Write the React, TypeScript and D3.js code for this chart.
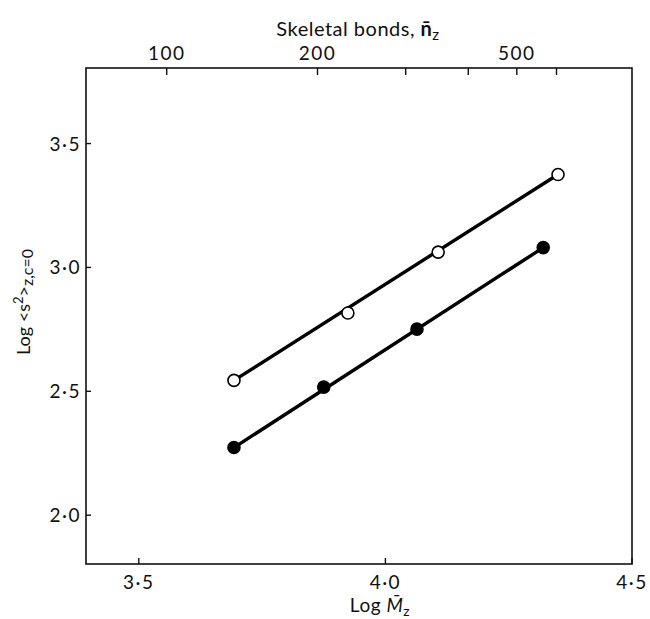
import React from "react";
import * as d3 from "d3";

// ---- data ----
const openLogM = [3.693, 3.924, 4.107, 4.35];
const openLogS = [2.544, 2.816, 3.062, 3.375];
const filledLogM = [3.693, 3.875, 4.064, 4.32];
const filledLogS = [2.273, 2.517, 2.751, 3.08];

const xTicks = [3.5, 4.0, 4.5];
const xTickLabels = ["3·5", "4·0", "4·5"];
const yTicks = [2.0, 2.5, 3.0, 3.5];
const yTickLabels = ["2·0", "2·5", "3·0", "3·5"];
const topTicks = [100, 200, 300, 400, 500, 600];
const topTickLabels = ["100", "200", "", "", "500", ""];

const W = 650;
const H = 619;
const M = { left: 86, right: 18, top: 68, bottom: 55 };
const FONT = "Lato, 'Open Sans', sans-serif";

export default function App() {
  const x = d3.scaleLinear().domain([3.393, 4.5]).range([M.left, W - M.right]);
  const y = d3.scaleLinear().domain([1.803, 3.805]).range([H - M.bottom, M.top]);
  const xTop = d3.scaleLog().domain([69, 849]).range([M.left, W - M.right]);

  const series = [
    { xs: openLogM, ys: openLogS, filled: false },
    { xs: filledLogM, ys: filledLogS, filled: true },
  ];
  const line = d3
    .line<[number, number]>()
    .x((d) => x(d[0]))
    .y((d) => y(d[1]));

  const x0 = M.left;
  const x1 = W - M.right;
  const y0 = M.top;
  const y1 = H - M.bottom;
  const tickFont = 19;

  return (
    <svg
      width={W}
      height={H}
      style={{ position: "absolute", left: 0, top: 0, background: "#fff" }}
      fontFamily={FONT}
    >
      <rect x={0} y={0} width={W} height={H} fill="#fff" />
      {/* frame */}
      <rect x={x0} y={y0} width={x1 - x0} height={y1 - y0} fill="none" stroke="#111" strokeWidth={1.6} />

      {/* bottom ticks */}
      {xTicks.map((t, i) => (
        <g key={"xt" + i}>
          <line x1={x(t)} x2={x(t)} y1={y1} y2={y1 - 6} stroke="#111" strokeWidth={1.4} />
          <text x={x(t)} y={y1 + 25} textAnchor="middle" fontSize={tickFont} fill="#111" letterSpacing={1.5}>
            {xTickLabels[i]}
          </text>
        </g>
      ))}
      {/* left ticks */}
      {yTicks.map((t, i) => (
        <g key={"yt" + i}>
          <line x1={x0} x2={x0 + 5} y1={y(t)} y2={y(t)} stroke="#111" strokeWidth={1.4} />
          <text x={x0 - 5} y={y(t) + 7} textAnchor="end" fontSize={tickFont} fill="#111" letterSpacing={1.5}>
            {yTickLabels[i]}
          </text>
        </g>
      ))}
      {/* top ticks */}
      {topTicks.map((t, i) => (
        <g key={"tt" + i}>
          <line x1={xTop(t)} x2={xTop(t)} y1={y0} y2={y0 + 7} stroke="#111" strokeWidth={1.4} />
          {topTickLabels[i] && (
            <text x={xTop(t)} y={y0 - 8} textAnchor="middle" fontSize={tickFont} fill="#111" letterSpacing={1.5}>
              {topTickLabels[i]}
            </text>
          )}
        </g>
      ))}

      {/* titles */}
      <text x={358} y={36} textAnchor="middle" fontSize={20} fill="#111" letterSpacing={0.5}>
        Skeletal bonds,{" "}
        <tspan fontWeight={700}>{"n\u0304"}</tspan>
        <tspan fontSize={15} dy={4}>z</tspan>
      </text>
      <text x={380} y={612} textAnchor="middle" fontSize={19} fill="#111" letterSpacing={0.5}>
        Log <tspan fontStyle="italic">{"M\u0304"}</tspan>
        <tspan fontSize={14} dy={4}>z</tspan>
      </text>
      <text
        transform={`translate(30, 302) rotate(-90)`}
        textAnchor="middle"
        fontSize={18}
        fill="#111"
      >
        {"Log <s"}
        <tspan fontSize={13} dy={-7}>2</tspan>
        <tspan dy={7}>{">"}</tspan>
        <tspan fontSize={16} dy={3}>z,c=0</tspan>
      </text>

      {/* lines and points */}
      {series.map((s, si) => {
        const n = s.xs.length;
        const pts: [number, number][] = [
          [s.xs[0], s.ys[0]],
          [s.xs[n - 1], s.ys[n - 1]],
        ];
        return (
          <g key={"s" + si}>
            <path d={line(pts) || ""} fill="none" stroke="#000" strokeWidth={3.4} />
            {s.xs.map((v, i) => (
              <circle
                key={i}
                cx={x(v)}
                cy={y(s.ys[i])}
                r={6}
                fill={s.filled ? "#000" : "#fff"}
                stroke="#000"
                strokeWidth={1.6}
              />
            ))}
          </g>
        );
      })}
    </svg>
  );
}
